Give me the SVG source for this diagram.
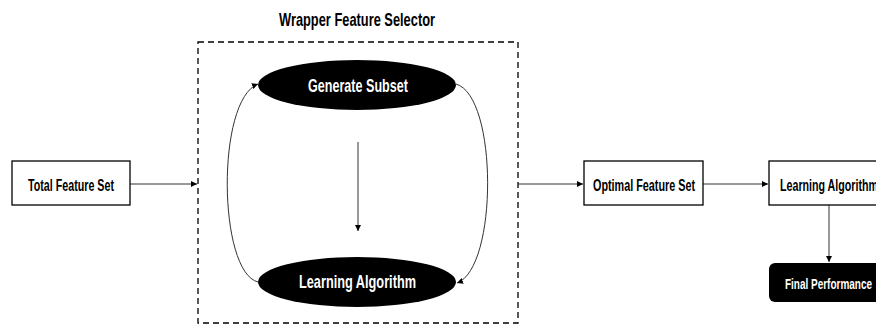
<svg xmlns="http://www.w3.org/2000/svg" width="876" height="325" viewBox="0 0 876 325">
<style>
text{font-family:"Liberation Sans","DejaVu Sans",sans-serif;font-weight:bold;text-anchor:middle}
.box{fill:#fff;stroke:#000;stroke-width:1.3}
.dark{fill:#000}
.lt{fill:#fff}
.dt{fill:#000}
.conn{fill:none;stroke:#333;stroke-width:1}
</style>
<defs>
<marker id="ah" markerWidth="8" markerHeight="8" refX="6" refY="3" orient="auto" markerUnits="userSpaceOnUse">
<path d="M0,0 L6,3 L0,6 z" fill="#000"/>
</marker>
</defs>
<text x="357" y="26" class="dt" font-size="17.7" textLength="156" lengthAdjust="spacingAndGlyphs">Wrapper Feature Selector</text>
<g id="wrapper">
<rect x="198" y="42" width="320" height="281" fill="none" stroke="#000" stroke-width="1.3" stroke-dasharray="6,4"/>
</g>
<g id="connectors">
<line class="conn" x1="130" y1="184" x2="197" y2="184" marker-end="url(#ah)"/>
<line class="conn" x1="518" y1="184" x2="583" y2="184" marker-end="url(#ah)"/>
<line class="conn" x1="703" y1="184" x2="768" y2="184" marker-end="url(#ah)"/>
<line class="conn" x1="829" y1="205" x2="829" y2="262" marker-end="url(#ah)"/>
<line class="conn" x1="358" y1="142" x2="358" y2="231" marker-end="url(#ah)"/>
<path class="conn" d="M258,282 C218,272 216,100 258,84" marker-end="url(#ah)"/>
<path class="conn" d="M456,84 C498,96 498,268 457,283" marker-end="url(#ah)"/>
</g>
<g id="total">
<rect class="box" x="12" y="161" width="118" height="44"/>
<text x="71" y="190.5" font-size="15.6" class="dt" textLength="86" lengthAdjust="spacingAndGlyphs">Total Feature Set</text>
</g>
<g id="generate">
<ellipse cx="357" cy="85" rx="99" ry="25" class="dark"/>
<text x="358" y="91.5" font-size="17.7" class="lt" textLength="100" lengthAdjust="spacingAndGlyphs">Generate Subset</text>
</g>
<g id="learning1">
<ellipse cx="357" cy="282" rx="99" ry="25" class="dark"/>
<text x="357.5" y="288.3" font-size="18.5" class="lt" textLength="117" lengthAdjust="spacingAndGlyphs">Learning Algorithm</text>
</g>
<g id="optimal">
<rect class="box" x="584" y="161" width="119" height="44"/>
<text x="644" y="190.5" font-size="15.6" class="dt" textLength="102" lengthAdjust="spacingAndGlyphs">Optimal Feature Set</text>
</g>
<g id="learning2">
<rect class="box" x="769" y="161" width="120" height="44"/>
<text x="829" y="190.5" font-size="15.6" class="dt" textLength="98" lengthAdjust="spacingAndGlyphs">Learning Algorithm</text>
</g>
<g id="final">
<rect x="769" y="263" width="120" height="39" rx="6" class="dark"/>
<text x="828.5" y="289" font-size="15" class="lt" textLength="87" lengthAdjust="spacingAndGlyphs">Final Performance</text>
</g>
</svg>
